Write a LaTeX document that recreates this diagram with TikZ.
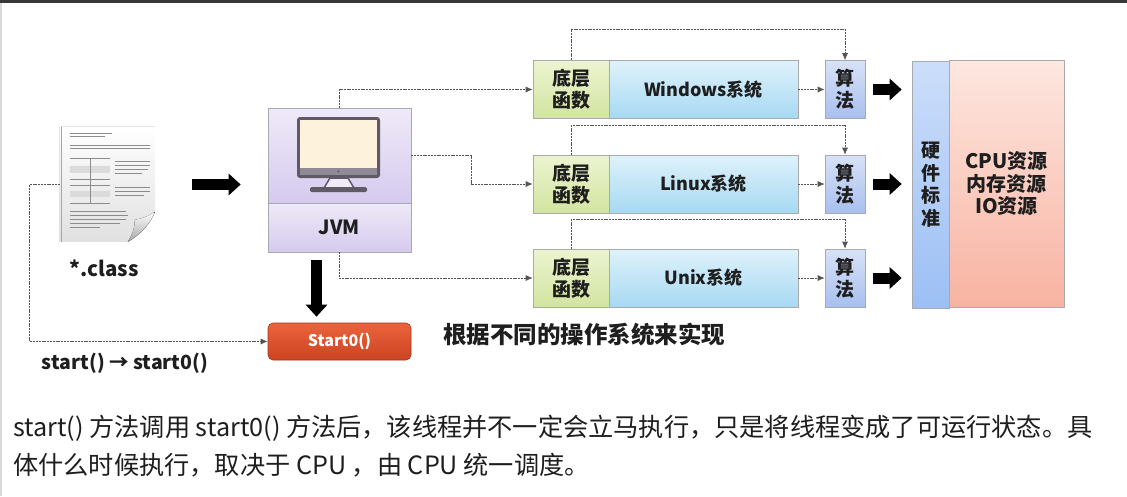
\documentclass[tikz,border=0pt]{standalone}
\usepackage{fontspec}
\setmainfont{Noto Sans CJK SC}
\usetikzlibrary{arrows.meta,calc}
\definecolor{txt}{HTML}{1E1E1E}
\definecolor{boxline}{HTML}{A9A9B0}
\definecolor{funtop}{HTML}{ECF4D0}
\definecolor{funbot}{HTML}{D2E4A0}
\definecolor{systop}{HTML}{DFF2FB}
\definecolor{sysbot}{HTML}{A6D9F3}
\definecolor{algtop}{HTML}{D8E2F8}
\definecolor{algbot}{HTML}{A8BFEE}
\definecolor{hwtop}{HTML}{CCDEFA}
\definecolor{hwbot}{HTML}{9CBFF4}
\definecolor{restop}{HTML}{FDE7E0}
\definecolor{resbot}{HTML}{F8B3A1}
\definecolor{jvmtop}{HTML}{EFEAF8}
\definecolor{jvmbot}{HTML}{D5CAEE}
\definecolor{redtop}{HTML}{EA643C}
\definecolor{redbot}{HTML}{CC4321}
\definecolor{linkgray}{HTML}{555555}
\definecolor{screen}{HTML}{FDF3DD}
\definecolor{frame}{HTML}{5F5A66}
\definecolor{band}{HTML}{8F8A96}
\begin{document}
\begin{tikzpicture}[x=1pt,y=-1pt,
    box/.style={draw=boxline,line width=0.6pt,inner sep=0pt,minimum height=58pt,
      text=txt,align=center,font=\bfseries\fontsize{19}{22}\selectfont},
    func/.style={box,minimum width=76pt,top color=funtop,bottom color=funbot},
    sys/.style={box,minimum width=189pt,top color=systop,bottom color=sysbot,
      font=\bfseries\fontsize{18}{22}\selectfont},
    algo/.style={box,minimum width=40pt,top color=algtop,bottom color=algbot},
    link/.style={draw=linkgray,line width=0.8pt,dash pattern=on 2pt off 0.8pt,
      -{Latex[length=7pt,width=6pt]}},
    fat/.style={line width=11pt,-{Triangle[length=12pt,width=21pt]}},
    label/.style={text=txt,inner sep=0pt,font=\bfseries\fontsize{19.5}{22}\selectfont},
    note/.style={text=txt,inner sep=0pt,anchor=west,font=\fontsize{25.2}{30}\selectfont}]
  \fill[white] (0,0) rectangle (1127,496);
  \useasboundingbox (0,0) rectangle (1127,496);
  \fill[black!78] (0,0) rectangle (1127,3);
  \fill[black!15] (0,3) rectangle (1.5,496);

  \node[minimum width=95pt,minimum height=115pt,inner sep=0pt] (doc) at (107.5,184.5) {};
  \begin{scope}[shift={(doc.north west)}]
    \fill[top color=white,bottom color=black!12] (0,0) -- (95,0) -- (95,85)
      .. controls (90,98) and (80,108) .. (68,115) -- (0,115) -- cycle;
    \draw[black!35,line width=0.8pt] (2,0) -- (2,115);
    \fill[top color=white,bottom color=black!35] (95,85) .. controls (88,90) and (81,92) .. (75,93)
      .. controls (75,102) and (72,109) .. (68,115) .. controls (80,108) and (90,98) .. (95,85);
    \fill[black!14] (10,39) rectangle (50,46) (10,64) rectangle (50,70);
    \draw[black!45,line width=0.5pt]
      (10,6) -- (52,6) (10,9) -- (45,9)
      (10,18) -- (90,18) (10,21) -- (90,21)
      (10,31) -- (50,31) (10,52) -- (50,52) (10,58) -- (50,58) (10,76) -- (50,76)
      (30,31) -- (30,76)
      (55,34) -- (90,34) (55,38) -- (90,38) (55,42) -- (88,42) (55,46) -- (82,46)
      (55,60) -- (90,60) (55,64) -- (90,64) (55,68) -- (84,68)
      (10,84) -- (66,84) (10,88) -- (68,88) (10,92) -- (66,92) (10,96) -- (60,96) (10,100) -- (40,100);
  \end{scope}
  \node[label,font=\bfseries\fontsize{20.5}{22}\selectfont] (cls) at (104,268) {*.class};
  \node[label] (call) at (125,363) {start() → start0()};

  \node[draw=boxline,line width=0.6pt,inner sep=0pt,minimum width=143pt,minimum height=95pt,
    top color=jvmtop,bottom color=jvmbot] (screenbox) at (339.5,155.5) {};
  \node[draw=boxline,line width=0.6pt,inner sep=0pt,minimum width=143pt,minimum height=49pt,
    top color=jvmtop,bottom color=jvmbot,label] (jvm) at (339.5,227.5) {JVM};
  \fill[frame,rounded corners=3pt] (297,117) rectangle (380,178);
  \fill[screen] (300,120) rectangle (377,168);
  \fill[band] (300,168) rectangle (377,175);
  \fill[frame] (338.5,171.5) circle (1.2);
  \filldraw[fill=jvmtop,draw=frame,line width=1.5pt] (330,178) -- (324,188) -- (354,188) -- (348,178) -- cycle;
  \fill[frame,rounded corners=1.5pt] (310,187) rectangle (367,192);

  \node[draw=redbot!80!black,line width=0.6pt,rounded corners=5pt,minimum width=143pt,
    minimum height=37pt,inner sep=0pt,top color=redtop,bottom color=redbot,text=white,
    font=\bfseries\fontsize{16}{18}\selectfont] (start) at (339.5,341.5) {Start0()};

  \node[func] (f1) at (571,89.5) {底层\\函数};
  \node[sys] (s1) at (703.5,89.5) {Windows系统};
  \node[algo] (a1) at (845,89.5) {算\\法};
  \node[func] (f2) at (571,184) {底层\\函数};
  \node[sys] (s2) at (703.5,184) {Linux系统};
  \node[algo] (a2) at (845,184) {算\\法};
  \node[func] (f3) at (571,278) {底层\\函数};
  \node[sys] (s3) at (703.5,278) {Unix系统};
  \node[algo] (a3) at (845,278) {算\\法};

  \node[box,minimum width=37pt,minimum height=247pt,top color=hwtop,bottom color=hwbot,
    font=\bfseries\fontsize{19}{22.5}\selectfont] (hw) at (930.5,184.5) {硬\\件\\标\\准};
  \node[box,minimum width=115pt,minimum height=247pt,top color=restop,bottom color=resbot,
    font=\bfseries\fontsize{20}{22.5}\selectfont] (res) at (1006.5,183.5) {CPU资源\\内存资源\\IO资源};

  \node[label,font=\bfseries\fontsize{23.5}{26}\selectfont] (os) at (584,335) {根据不同的操作系统来实现};
  \node[note] (note1) at (13,428) {start() 方法调用 start0() 方法后，该线程并不一定会立马执行，只是将线程变成了可运行状态。具};
  \node[note] (note2) at (13,465) {体什么时候执行，取决于 CPU ，由 CPU 统一调度。};

  \begin{scope}[link]
    \draw (doc.west) -- ++(-30,0) |- (start.west);
    \draw (screenbox.north) |- (f1.west);
    \draw (screenbox.east) -- ++(60,0) |- (f2.west);
    \draw (jvm.south) |- (f3.west);
    \draw (f1.north) -- ++(0,-31) -| (a1.north);
    \draw (f2.north) -- ++(0,-29) -| (a2.north);
    \draw (f3.north) -- ++(0,-29) -| (a3.north);
    \draw (s1.east) to (a1.west);
    \draw (s2.east) to (a2.west);
    \draw (s3.east) to (a3.west);
  \end{scope}
  \begin{scope}[fat]
    \draw ($(doc.east)+(37,0)$) to ($(screenbox.west|-doc.east)+(-27,0)$);
    \draw ($(jvm.south)+(-23,8)$) to ($(start.north)+(-23,-6)$);
    \draw ($(a1.east)+(8,0)$) to ($(hw.west|-a1.east)+(-10,0)$);
    \draw ($(a2.east)+(8,0)$) to ($(hw.west|-a2.east)+(-10,0)$);
    \draw ($(a3.east)+(8,0)$) to ($(hw.west|-a3.east)+(-10,0)$);
  \end{scope}
\end{tikzpicture}
\end{document}
